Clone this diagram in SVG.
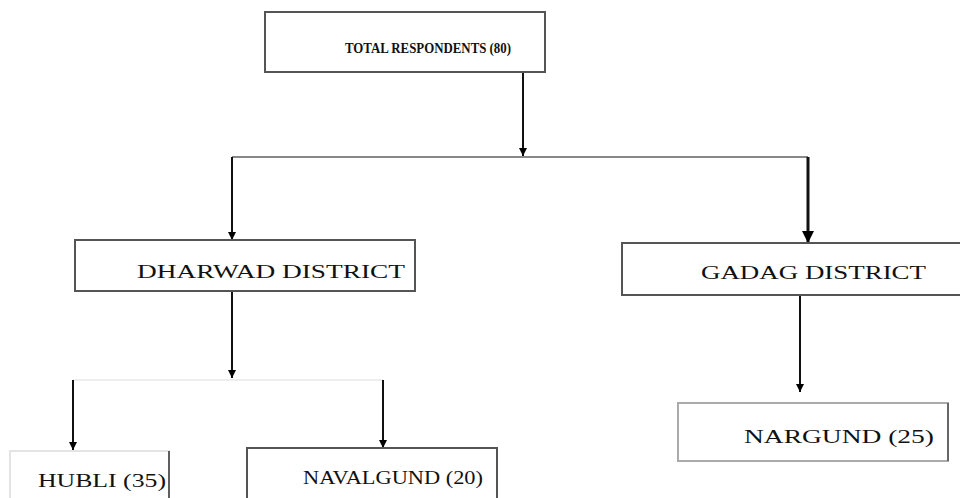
<svg xmlns="http://www.w3.org/2000/svg" width="960" height="498" viewBox="0 0 960 498">
<defs>
<marker id="ah" viewBox="0 0 10 10" refX="10" refY="5" markerWidth="4" markerHeight="4" orient="auto" markerUnits="strokeWidth">
<path d="M0,0 L10,5 L0,10 z" fill="#000"/>
</marker>
<style>
.box{fill:#fff;stroke:#555;stroke-width:2}
.lbl{font-family:"Liberation Serif","Times New Roman",serif;font-size:18px;fill:#111}
.top{font-weight:bold;font-size:15px}
.arr{stroke:#111;stroke-width:2;fill:none;marker-end:url(#ah)}
.hl{stroke:#888;stroke-width:2;fill:none}
</style>
</defs>
<rect width="960" height="498" fill="#fff"/>
<g id="connectors">
<line class="arr" x1="523" y1="72" x2="523" y2="156"/>
<line class="hl" x1="232" y1="157" x2="808" y2="157"/>
<line class="arr" x1="232" y1="157" x2="232" y2="240"/>
<line class="arr" x1="808" y1="157" x2="808" y2="243" style="stroke-width:3"/>
<line class="arr" x1="232" y1="291" x2="232" y2="378"/>
<line class="hl" x1="73" y1="380" x2="383" y2="380" style="stroke:#eee"/>
<line class="arr" x1="73" y1="380" x2="73" y2="450"/>
<line class="arr" x1="383" y1="380" x2="383" y2="448"/>
<line class="arr" x1="800" y1="295" x2="800" y2="392"/>
</g>
<g id="total">
<rect class="box" x="265" y="12" width="280" height="60"/>
<text class="lbl top" x="345" y="53" textLength="166" lengthAdjust="spacingAndGlyphs">TOTAL RESPONDENTS (80)</text>
</g>
<g id="dharwad">
<rect class="box" x="75" y="240" width="340" height="51"/>
<text class="lbl" x="137" y="278" textLength="268" lengthAdjust="spacingAndGlyphs">DHARWAD DISTRICT</text>
</g>
<g id="gadag">
<rect class="box" x="622" y="243" width="342" height="52"/>
<text class="lbl" x="701" y="279" textLength="225" lengthAdjust="spacingAndGlyphs">GADAG DISTRICT</text>
</g>
<g id="nargund">
<rect class="box" x="678" y="403" width="270" height="58" style="stroke:#aaa"/>
<line x1="948" y1="403" x2="948" y2="461" stroke="#666" stroke-width="2"/>
<text class="lbl" x="744" y="443" textLength="190" lengthAdjust="spacingAndGlyphs">NARGUND (25)</text>
</g>
<g id="hubli">
<rect class="box" x="10" y="451" width="159" height="50" style="stroke:#e4e4e4"/>
<line x1="169" y1="451" x2="169" y2="498" stroke="#333" stroke-width="1.5"/>
<text class="lbl" x="38" y="487" textLength="128" lengthAdjust="spacingAndGlyphs">HUBLI (35)</text>
</g>
<g id="navalgund">
<rect class="box" x="247" y="448" width="250" height="55"/>
<text class="lbl" x="303" y="484" textLength="180" lengthAdjust="spacingAndGlyphs">NAVALGUND (20)</text>
</g>
</svg>
